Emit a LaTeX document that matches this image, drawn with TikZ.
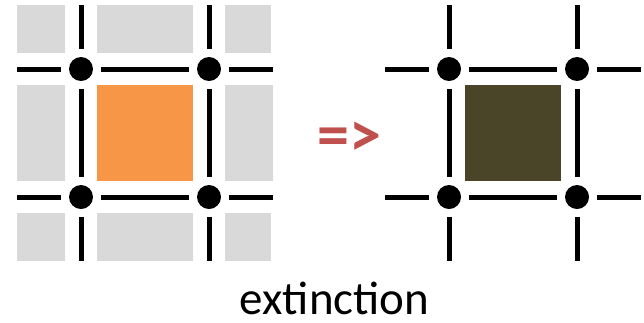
\documentclass[tikz,border=0pt]{standalone}
\usepackage{fontspec}
\setmainfont{Carlito}
\definecolor{cellgray}{HTML}{D9D9D9}
\definecolor{cellorange}{HTML}{F79646}
\definecolor{celldark}{HTML}{4A4429}
\definecolor{arrowred}{HTML}{C0504D}
\tikzset{
  wire/.style={line width=5pt, black},
  junction/.style={circle, fill=black, minimum size=24pt, inner sep=0pt},
}
% wires and junctions of one 2x2 cell frame, in local coordinates
\newcommand{\cellframe}[1]{%
  \foreach \xx in {81,209} {
    \draw[wire] (\xx,5) -- (\xx,49);
    \draw[wire] (\xx,89) -- (\xx,177);
    \draw[wire] (\xx,217) -- (\xx,261);
  }
  \foreach \yy in {69,197} {
    \draw[wire] (17,\yy) -- (61,\yy);
    \draw[wire] (101,\yy) -- (189,\yy);
    \draw[wire] (229,\yy) -- (273,\yy);
  }
  \node[junction] (#1tl) at (81,69) {};
  \node[junction] (#1tr) at (209,69) {};
  \node[junction] (#1bl) at (81,197) {};
  \node[junction] (#1br) at (209,197) {};
}
\begin{document}
\begin{tikzpicture}[x=1pt, y=-1pt]
  \useasboundingbox (0,0) rectangle (644,322);
  % neighbouring cells
  \foreach \xa/\xb in {17/65,97/193,225/271} {
    \fill[cellgray] (\xa,5) rectangle (\xb,53);
    \fill[cellgray] (\xa,213) rectangle (\xb,261);
  }
  \fill[cellgray] (17,85) rectangle (65,181);
  \fill[cellgray] (225,85) rectangle (273,181);
  % living cell
  \fill[cellorange] (97,85) rectangle (193,181);
  \cellframe{a}
  % result: extinct cell
  \begin{scope}[xshift=368pt]
    \fill[celldark] (97,85) rectangle (193,181);
    \cellframe{b}
  \end{scope}
  % transition sign
  \node[anchor=base, inner sep=0pt, text=arrowred, font=\fontsize{64}{68}\selectfont\bfseries] (arrow) at (349.5,156) {=>};
  % caption
  \node[anchor=base, inner sep=0pt, text depth=0pt, font=\fontsize{47}{52}\selectfont] (caption) at (334.5,314) {extinction};
\end{tikzpicture}
\end{document}
